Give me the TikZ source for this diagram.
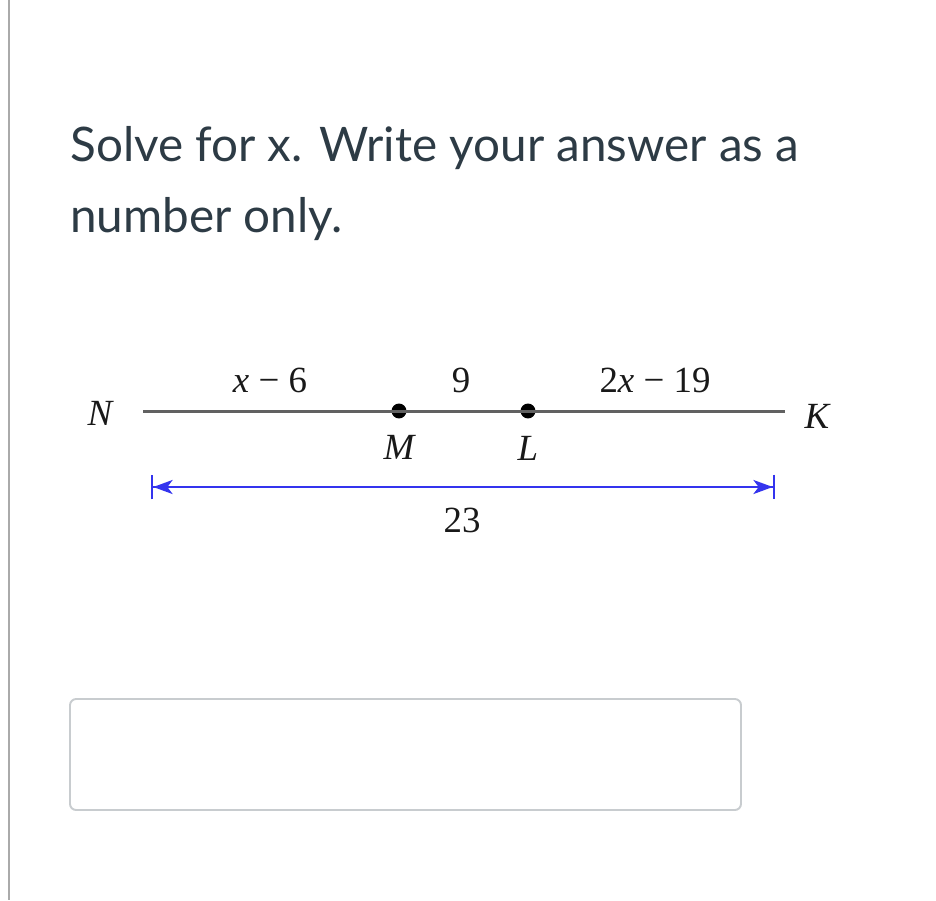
\documentclass[tikz,border=0pt]{standalone}
\usepackage{fontspec}
\setmainfont{Lato}
\newfontfamily\figfont{Liberation Serif}
\usetikzlibrary{positioning, arrows.meta}
\definecolor{inktext}{HTML}{2D3B45}
\definecolor{boxgray}{HTML}{C8CCCF}
\definecolor{sidegray}{HTML}{AAAAAA}
\definecolor{segblue}{HTML}{3434EE}

\begin{document}
\begin{tikzpicture}[x=0.02cm, y=-0.02cm,
                title/.style={anchor=base west, inner sep=0pt, text=inktext, font=\fontsize{27.1}{33}\selectfont},
                lbl/.style={inner sep=0pt, font=\figfont\fontsize{21}{24}\selectfont, text=black!90},
                pt/.style={circle, fill=black, inner sep=0pt, minimum size=8.5pt},
                seg/.style={line width=1.7pt, draw=black!62},
                meas/.style={line width=1.3pt, draw=segblue, {Bar[width=14pt]Stealth[length=11pt, width=8pt, inset=3pt]}-{Stealth[length=11pt, width=8pt, inset=3pt]Bar[width=14pt]}},
            ]
                \useasboundingbox (0,0) rectangle (936,900);
                \draw[line width=1.7pt, sidegray] (9,0) -- (9,900);

                % question
                \node[title] (q1) at (70,161) {Solve for x. Write your answer as a};
                \node[title] (q2) at (70,232) {number only.};

                % segment N--K
                \coordinate (n) at (143,411);
                \coordinate (k) at (785,411);
                \node[pt] (m) at (399,411) {};
                \node[pt] (l) at (528,411) {};
                \draw[seg] (n) -- (k);

                \node[lbl] (nlab) at (100,413) {\itshape N};
                \node[lbl] (klab) at (817,416) {\itshape K};
                \node[lbl, below=9pt of m] (mlab) {\itshape M};
                \node[lbl, below=10pt of l] (llab) {\itshape L};
                \node[lbl] (nm) at (270,380) {\itshape x\upshape{} − 6};
                \node[lbl] (ml) at (461,380) {9};
                \node[lbl] (lk) at (655,380) {2\itshape x\upshape{} − 19};

                % total length
                \coordinate (a) at (151,487);
                \coordinate (b) at (775,487);
                \draw[meas] (a) -- (b);
                \node[lbl] (tot) at (462,520) {23};

                % answer box
                \node[draw=boxgray, line width=1.1pt, rounded corners=3.5pt, minimum width=671*0.02cm, minimum height=111*0.02cm, inner sep=0pt] (ans) at (405.5,754.5) {};
            \end{tikzpicture}
\end{document}
